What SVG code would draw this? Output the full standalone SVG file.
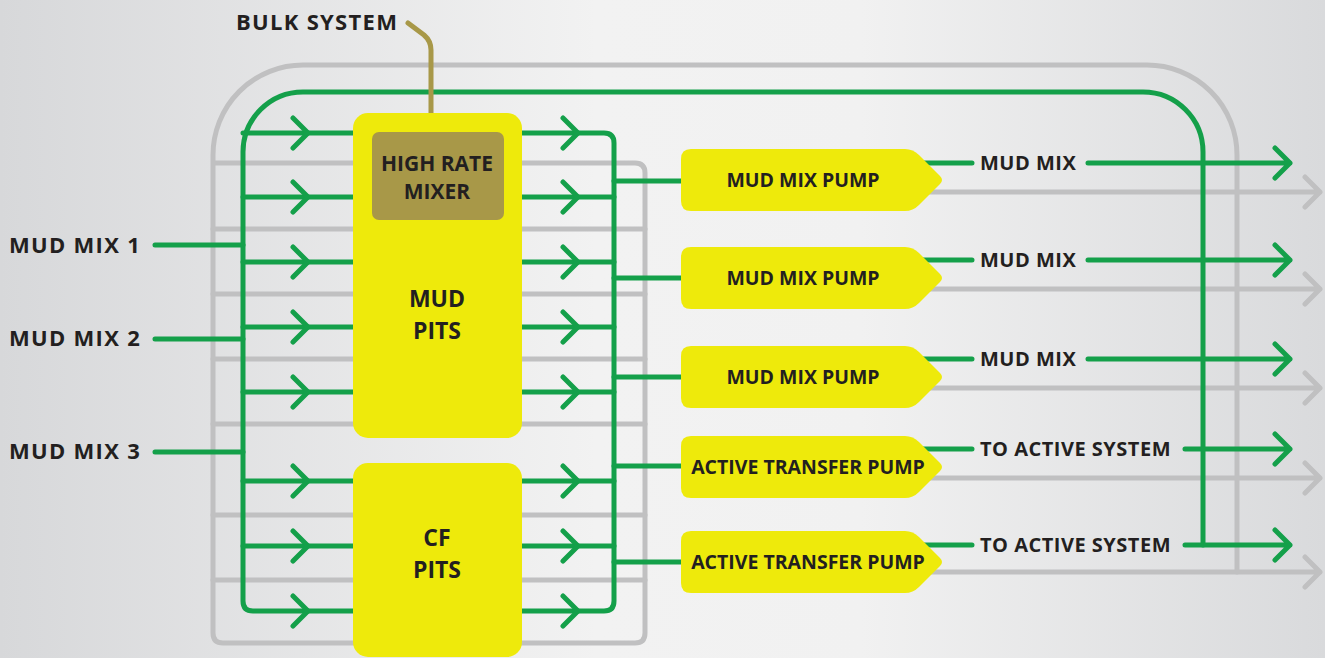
<svg xmlns="http://www.w3.org/2000/svg" width="1325" height="658" viewBox="0 0 1325 658">
<defs>
<linearGradient id="bg" x1="0" y1="0" x2="1" y2="0">
<stop offset="0" stop-color="#d7d8da"/>
<stop offset="0.45" stop-color="#f2f2f2"/>
<stop offset="0.65" stop-color="#f1f1f1"/>
<stop offset="1" stop-color="#d9dadc"/>
</linearGradient>
<style>
.g{fill:none;stroke:#c0c0c1;stroke-width:5;stroke-linecap:round;stroke-linejoin:round}
.gr{fill:none;stroke:#14a04a;stroke-width:5;stroke-linecap:round;stroke-linejoin:round}
.bulk{fill:none;stroke:#a89848;stroke-width:5;stroke-linecap:round;stroke-linejoin:round}
.pit{fill:#eeea0b}
.mix{fill:#a89848}
.pump{fill:#eeea0b}
text{font-family:"Open Sans","Noto Sans","Liberation Sans",sans-serif;font-weight:700;fill:#231f20}
.lbl{font-size:22px;letter-spacing:1.3px}
.out{font-size:20px;letter-spacing:0.5px}
.pt{font-size:19.5px;text-anchor:middle}
.big{font-size:23px;text-anchor:middle}
.mx{font-size:21px;text-anchor:middle}
</style>
</defs>
<rect x="0" y="0" width="1325" height="658" fill="url(#bg)"/>
<g id="connectors">
<g id="grey">
<path class="g" d="M1237 572 V155 A90 90 0 0 0 1147 65 H303 A90 90 0 0 0 213 155 V633 Q213 643 223 643 H635 Q645 643 645 633 V173 Q645 163 635 163 H213"/>
<path class="g" d="M213 229 H645 M213 294 H645 M213 359 H645 M213 424 H645 M213 515 H645 M213 580 H645"/>
<path class="g" d="M915 192 H1320 M1305 177 L1320 192 L1305 207"/>
<path class="g" d="M915 289 H1320 M1305 274 L1320 289 L1305 304"/>
<path class="g" d="M915 388 H1320 M1305 373 L1320 388 L1305 403"/>
<path class="g" d="M915 478 H1320 M1305 463 L1320 478 L1305 493"/>
<path class="g" d="M915 572 H1320 M1305 557 L1320 572 L1305 587"/>
</g>
<g id="green">
<path class="gr" d="M1203 545 V152 A60 60 0 0 0 1143 92 H303 A60 60 0 0 0 243 152 V601 Q243 611 253 611 H353"/>
<path class="gr" d="M243 133 H353 M243 197 H353 M243 262 H353 M243 327 H353 M243 392 H353 M243 481 H353 M243 546 H353"/>
<path class="gr" d="M293 118 L308 133 L293 148 M293 182 L308 197 L293 212 M293 247 L308 262 L293 277 M293 312 L308 327 L293 342 M293 377 L308 392 L293 407 M293 466 L308 481 L293 496 M293 531 L308 546 L293 561 M293 596 L308 611 L293 626"/>
<path class="gr" d="M522 133 H604 Q614 133 614 143 V601 Q614 611 604 611 H522"/>
<path class="gr" d="M522 197 H614 M522 262 H614 M522 327 H614 M522 392 H614 M522 481 H614 M522 546 H614"/>
<path class="gr" d="M563 118 L578 133 L563 148 M563 182 L578 197 L563 212 M563 247 L578 262 L563 277 M563 312 L578 327 L563 342 M563 377 L578 392 L563 407 M563 466 L578 481 L563 496 M563 531 L578 546 L563 561 M563 596 L578 611 L563 626"/>
<path class="gr" d="M614 181 H690 M614 278 H690 M614 377 H690 M614 466 H690 M614 562 H690"/>
<path class="gr" d="M155 245 H243 M155 339 H243 M155 452 H243"/>
<path class="gr" d="M915 163 H972 M1088 163 H1290 M1275 148 L1290 163 L1275 178"/>
<path class="gr" d="M915 260 H972 M1088 260 H1290 M1275 245 L1290 260 L1275 275"/>
<path class="gr" d="M915 359 H972 M1088 359 H1290 M1275 344 L1290 359 L1275 374"/>
<path class="gr" d="M915 449 H972 M1185 449 H1290 M1275 434 L1290 449 L1275 464"/>
<path class="gr" d="M915 545 H972 M1185 545 H1290 M1275 530 L1290 545 L1275 560"/>
</g>
<path class="bulk" d="M408 23 L424 35 Q431 41 431 50 V133"/>
</g>
<g id="mud-pits">
<rect class="pit" x="353" y="113" width="169" height="325" rx="15"/>
<text class="big" x="437" y="307">MUD</text>
<text class="big" x="437" y="339">PITS</text>
</g>
<g id="high-rate-mixer">
<rect class="mix" x="372" y="132" width="132" height="88" rx="7"/>
<text class="mx" x="437" y="171">HIGH RATE</text>
<text class="mx" x="437" y="199">MIXER</text>
</g>
<g id="cf-pits">
<rect class="pit" x="353" y="463" width="169" height="194" rx="15"/>
<text class="big" x="437" y="546">CF</text>
<text class="big" x="437" y="578">PITS</text>
</g>
<g id="pump1">
<path class="pump" d="M691 149 H905 Q913 149 919 155 L940 176 Q944 180 940 184 L919 205 Q913 211 905 211 H691 Q681 211 681 201 V159 Q681 149 691 149 Z"/>
<text class="pt" x="803" y="187">MUD MIX PUMP</text>
</g>
<g id="pump2">
<path class="pump" d="M691 247 H905 Q913 247 919 253 L940 274 Q944 278 940 282 L919 303 Q913 309 905 309 H691 Q681 309 681 299 V257 Q681 247 691 247 Z"/>
<text class="pt" x="803" y="285">MUD MIX PUMP</text>
</g>
<g id="pump3">
<path class="pump" d="M691 346 H905 Q913 346 919 352 L940 373 Q944 377 940 381 L919 402 Q913 408 905 408 H691 Q681 408 681 398 V356 Q681 346 691 346 Z"/>
<text class="pt" x="803" y="384">MUD MIX PUMP</text>
</g>
<g id="pump4">
<path class="pump" d="M691 436 H905 Q913 436 919 442 L940 463 Q944 467 940 471 L919 492 Q913 498 905 498 H691 Q681 498 681 488 V446 Q681 436 691 436 Z"/>
<text class="pt" x="808" y="474">ACTIVE TRANSFER PUMP</text>
</g>
<g id="pump5">
<path class="pump" d="M691 531 H905 Q913 531 919 537 L940 558 Q944 562 940 566 L919 587 Q913 593 905 593 H691 Q681 593 681 583 V541 Q681 531 691 531 Z"/>
<text class="pt" x="808" y="569">ACTIVE TRANSFER PUMP</text>
</g>
<g id="labels">
<text class="lbl" x="236" y="30">BULK SYSTEM</text>
<text class="lbl" x="9" y="253">MUD MIX 1</text>
<text class="lbl" x="9" y="346">MUD MIX 2</text>
<text class="lbl" x="9" y="459">MUD MIX 3</text>
<text class="out" x="980" y="170">MUD MIX</text>
<text class="out" x="980" y="267">MUD MIX</text>
<text class="out" x="980" y="366">MUD MIX</text>
<text class="out" x="980" y="456">TO ACTIVE SYSTEM</text>
<text class="out" x="980" y="552">TO ACTIVE SYSTEM</text>
</g>
</svg>
